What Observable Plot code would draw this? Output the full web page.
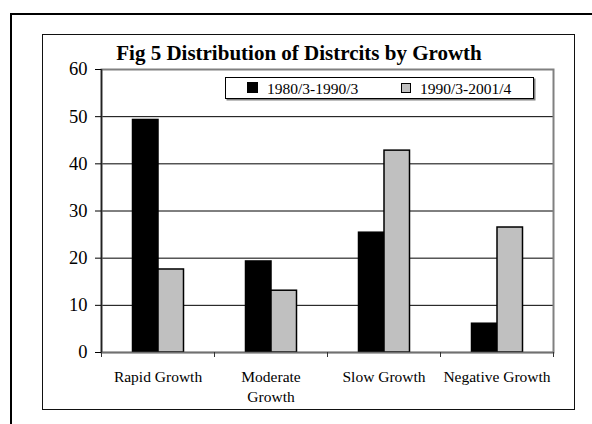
<!DOCTYPE html>
<html>
<head>
<meta charset="utf-8">
<script src="https://cdn.jsdelivr.net/npm/d3@7"></script>
<script src="https://cdn.jsdelivr.net/npm/@observablehq/plot@0.6"></script>
<style>
  html, body { margin: 0; padding: 0; background: #fff; }
  #wrap { position: relative; width: 592px; height: 424px; overflow: hidden; font-family: "Liberation Serif", "Times New Roman", serif; color: #000; }
  .box { position: absolute; box-sizing: border-box; }
  #chart { position: absolute; left: 0; top: 0; }
  #title { position: absolute; left: 0; width: 598px; top: 43.4px; line-height: 21px; font-size: 21px; font-weight: bold; text-align: center; white-space: nowrap; }
  #legend { position: absolute; box-sizing: border-box; left: 225px; top: 77px; width: 309px; height: 22px; border: 1px solid #000; background: #fff; box-shadow: 1.5px 1.5px 0 #808080; }
  #legend .sw { position: absolute; box-sizing: border-box; }
  #legend .lab { position: absolute; font-size: 15.5px; line-height: 15.5px; white-space: nowrap; top: 2.5px; }
</style>
</head>
<body>
<div id="wrap">
  <div class="box" style="left:10px;top:13px;width:640px;height:460px;border:2px solid #000;"></div>
  <div class="box" style="left:41.5px;top:34px;width:533px;height:375.5px;border:1.5px solid #111;"></div>
  <div id="chart"></div>
  <div id="title"></div>
  <div id="legend"></div>
</div>
<script>
const title = "Fig 5 Distribution of Distrcits by Growth";
const categories = ["Rapid Growth", "Moderate Growth", "Slow Growth", "Negative Growth"];
const tickLabels = ["Rapid Growth", "Moderate\nGrowth", "Slow Growth", "Negative Growth"];
const seriesNames = ["1980/3-1990/3", "1990/3-2001/4"];
const series1 = [49.3, 19.3, 25.4, 6.1];
const series2 = [17.6, 13.1, 42.8, 26.5];
const yTicks = [0, 10, 20, 30, 40, 50, 60];
const colors = ["#000000", "#c0c0c0"];

const data1 = categories.map((c, i) => ({category: c, value: series1[i]}));
const data2 = categories.map((c, i) => ({category: c, value: series2[i]}));
const labelOf = new Map(categories.map((c, i) => [c, tickLabels[i]]));

const W = 592, H = 424, mL = 101, mR = 39, mT = 69, mB = 72;
const bw = (W - mL - mR) / categories.length;
const half = bw / 2;

const plot = Plot.plot({
  width: W,
  height: H,
  marginLeft: mL,
  marginRight: mR,
  marginTop: mT,
  marginBottom: mB,
  style: {background: "none", fontFamily: "'Liberation Serif', 'Times New Roman', serif", color: "#000"},
  x: {domain: categories, padding: 0, axis: null, label: null},
  y: {domain: [0, 60], axis: null, label: null},
  marks: [
    Plot.ruleY(yTicks.filter(d => d > 0 && d < 60), {stroke: "#000", strokeWidth: 1}),
    Plot.frame({stroke: "#808080", strokeWidth: 2}),
    Plot.barY(data1, {x: "category", y: "value", fill: colors[0], stroke: "#000", strokeWidth: 1.5, insetLeft: 31.5, insetRight: bw - 57}),
    Plot.barY(data2, {x: "category", y: "value", fill: colors[1], stroke: "#000", strokeWidth: 1.5, insetLeft: 57, insetRight: bw - 82.5}),
    Plot.ruleY([0], {stroke: "#707070", strokeWidth: 1.5}),
    Plot.ruleX([categories[0]], {x: d => d, y1: 0, y2: 60, dx: -half, stroke: "#222", strokeWidth: 1.5}),
    Plot.axisY({ticks: yTicks, label: null, tickSize: 6, tickPadding: 8, fontSize: 18.5, stroke: "#000", strokeWidth: 1, tickFormat: d => String(d)}),
    Plot.axisX({ticks: categories, label: null, tickSize: 5, tickFormat: () => "", dx: -half, stroke: "#333"}),
    Plot.axisX({ticks: [categories[categories.length - 1]], label: null, tickSize: 5, tickFormat: () => "", dx: half, stroke: "#333"}),
    Plot.axisX({ticks: categories, label: null, tickSize: 0, tickPadding: 15, fontSize: 15.5, lineHeight: 1.29, tickFormat: d => labelOf.get(d)})
  ]
});
document.getElementById("chart").appendChild(plot);

document.getElementById("title").textContent = title;

const legend = document.getElementById("legend");
const items = [
  {sw: {left: 21, top: 4, w: 11, h: 11, fill: colors[0], border: "none"}, labLeft: 41, name: seriesNames[0]},
  {sw: {left: 175, top: 5, w: 10, h: 10, fill: colors[1], border: "1.5px solid #000"}, labLeft: 194, name: seriesNames[1]}
];
for (const it of items) {
  const s = document.createElement("div");
  s.className = "sw";
  s.style.left = it.sw.left + "px";
  s.style.top = it.sw.top + "px";
  s.style.width = it.sw.w + "px";
  s.style.height = it.sw.h + "px";
  s.style.background = it.sw.fill;
  s.style.border = it.sw.border;
  legend.appendChild(s);
  const l = document.createElement("span");
  l.className = "lab";
  l.style.left = it.labLeft + "px";
  l.textContent = it.name;
  legend.appendChild(l);
}
</script>
</body>
</html>
